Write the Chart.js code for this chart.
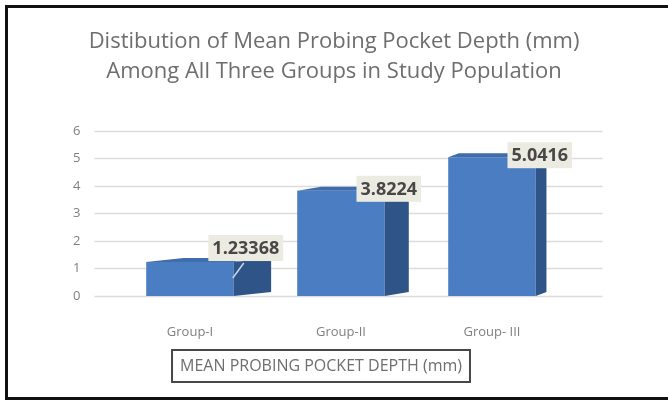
<!DOCTYPE html>
<html lang="en">
<head>
  <meta charset="UTF-8">
  <title>Mean Probing Pocket Depth</title>
  <script src="https://cdn.jsdelivr.net/npm/chart.js"></script>
  <style>
    html, body { margin: 0; padding: 0; background: #fff; overflow: hidden; }
    .wrap { width: 668px; height: 406px; position: relative; overflow: hidden; }
    .frame {
      position: absolute; left: 5px; top: 5px; width: 720px; height: 395px;
      border-left: 3px solid #111; border-top: 3px solid #111; border-bottom: 3px solid #111;
      box-sizing: border-box; pointer-events: none;
    }
    canvas { position: absolute; left: 0; top: 0; }
  </style>
</head>
<body>
<div class="wrap">
  <canvas id="depthChart" width="668" height="406"></canvas>
  <div class="frame"></div>
</div>

<script>
const categories = ['Group-I', 'Group-II', 'Group- III'];
const meanDepth = [1.23368, 3.8224, 5.0416];
const valueLabels = ['1.23368', '3.8224', '5.0416'];
const yTicks = [0, 1, 2, 3, 4, 5, 6];

const chartTitle = ['Distibution of Mean Probing Pocket Depth (mm)', 'Among All Three Groups in Study Population'];
const axisTitle = 'MEAN PROBING POCKET DEPTH (mm)';

const FONT = "'Open Sans', 'Noto Sans', sans-serif";
const GREY = '#6e6e6e';
const TICK_GREY = '#7f7f7f';

// long grid lines that run past the plot area, like the 3D floor/wall of the original
const wallGrid = {
  id: 'wallGrid',
  beforeDatasetsDraw(chart) {
    const { ctx, chartArea, scales } = chart;
    ctx.save();
    ctx.strokeStyle = '#dcdcdc';
    ctx.lineWidth = 1.5;
    yTicks.forEach(v => {
      const y = Math.round(scales.y.getPixelForValue(v)) + 0.5;
      ctx.beginPath();
      ctx.moveTo(chartArea.left - 20, y);
      ctx.lineTo(chartArea.right + 35, y);
      ctx.stroke();
    });
    ctx.restore();
  }
};

// side faces of the bars (shallower to the right, as in the perspective view) and boxed value labels
const barExtras = {
  id: 'barExtras',
  afterDatasetsDraw(chart) {
    const { ctx, chartArea } = chart;
    const meta = chart.getDatasetMeta(0);
    const depthY = -4;
    ctx.save();
    meta.data.forEach(bar => {
      const right = bar.x + bar.width / 2;
      const left = bar.x - bar.width / 2;
      const t = (bar.x - chartArea.left) / chartArea.width;
      const depthX = 44 - 40 * t;
      ctx.fillStyle = '#2f5487';
      ctx.beginPath();
      ctx.moveTo(right, bar.y);
      ctx.lineTo(right + depthX, bar.y + depthY);
      ctx.lineTo(right + depthX, bar.base + depthY);
      ctx.lineTo(right, bar.base);
      ctx.closePath();
      ctx.fill();
      ctx.fillStyle = '#3f6caa';
      ctx.beginPath();
      ctx.moveTo(left, bar.y);
      ctx.lineTo(left + depthX, bar.y + depthY);
      ctx.lineTo(right + depthX, bar.y + depthY);
      ctx.lineTo(right, bar.y);
      ctx.closePath();
      ctx.fill();
    });

    ctx.font = 'bold 18px ' + FONT;
    ctx.textAlign = 'center';
    ctx.textBaseline = 'middle';
    meta.data.forEach((bar, i) => {
      const right = bar.x + bar.width / 2;
      const short = (bar.base - bar.y) < 45;
      const cx = right + (short ? 12 : 4);
      const cy = bar.y - (short ? 14 : 2);
      const w = ctx.measureText(valueLabels[i]).width + 8;
      const h = 26;
      if (short) {
        ctx.strokeStyle = '#c9d6ea';
        ctx.lineWidth = 1.5;
        ctx.beginPath();
        ctx.moveTo(cx - 2, cy + h / 2 + 2);
        ctx.lineTo(right - 1, bar.y + 16);
        ctx.stroke();
      }
      ctx.fillStyle = '#ecebe1';
      ctx.fillRect(cx - w / 2, cy - h / 2, w, h);
      ctx.fillStyle = '#474747';
      ctx.fillText(valueLabels[i], cx, cy + 1);
    });
    ctx.restore();
  },
  afterDraw(chart) {
    const { ctx } = chart;
    const xs = chart.scales.x;
    const cx = (xs.left + xs.right) / 2 - 20;
    const cy = 366;
    ctx.save();
    ctx.font = '16px ' + FONT;
    ctx.textAlign = 'center';
    ctx.textBaseline = 'middle';
    ctx.fillStyle = GREY;
    ctx.fillText(axisTitle, cx, cy);
    const w = ctx.measureText(axisTitle).width + 16;
    ctx.strokeStyle = '#474747';
    ctx.lineWidth = 2;
    ctx.strokeRect(cx - w / 2, cy - 16, w, 32);
    ctx.restore();
  }
};

new Chart(document.getElementById('depthChart'), {
  type: 'bar',
  data: {
    labels: categories,
    datasets: [{
      label: 'Mean PPD',
      data: meanDepth,
      backgroundColor: '#4a7dc2',
      borderWidth: 0,
      barPercentage: 0.58,
      categoryPercentage: 1
    }]
  },
  options: {
    responsive: false,
    animation: false,
    layout: { padding: { left: 0, right: 0, top: 27, bottom: 0 } },
    plugins: {
      legend: { display: false },
      tooltip: { enabled: false },
      title: {
        display: true,
        text: chartTitle,
        color: GREY,
        font: { family: FONT, size: 22, weight: 'normal', lineHeight: 1.36 },
        padding: { top: 0, bottom: 44 }
      }
    },
    scales: {
      x: {
        grid: { display: false },
        border: { display: false },
        ticks: { color: TICK_GREY, font: { family: FONT, size: 13 }, padding: 20 },
        afterFit(scale) { scale.height = 110; }
      },
      y: {
        min: 0,
        max: 6,
        grid: { display: false },
        border: { display: false },
        ticks: { stepSize: 1, color: TICK_GREY, font: { family: FONT, size: 13 }, padding: 26 },
        afterFit(scale) { scale.width = 114.5; }
      },
      side: {
        position: 'right',
        display: true,
        grid: { display: false },
        border: { display: false },
        ticks: { display: false },
        afterFit(scale) { scale.width = 100.5; }
      }
    }
  },
  plugins: [wallGrid, barExtras]
});
</script>
</body>
</html>
